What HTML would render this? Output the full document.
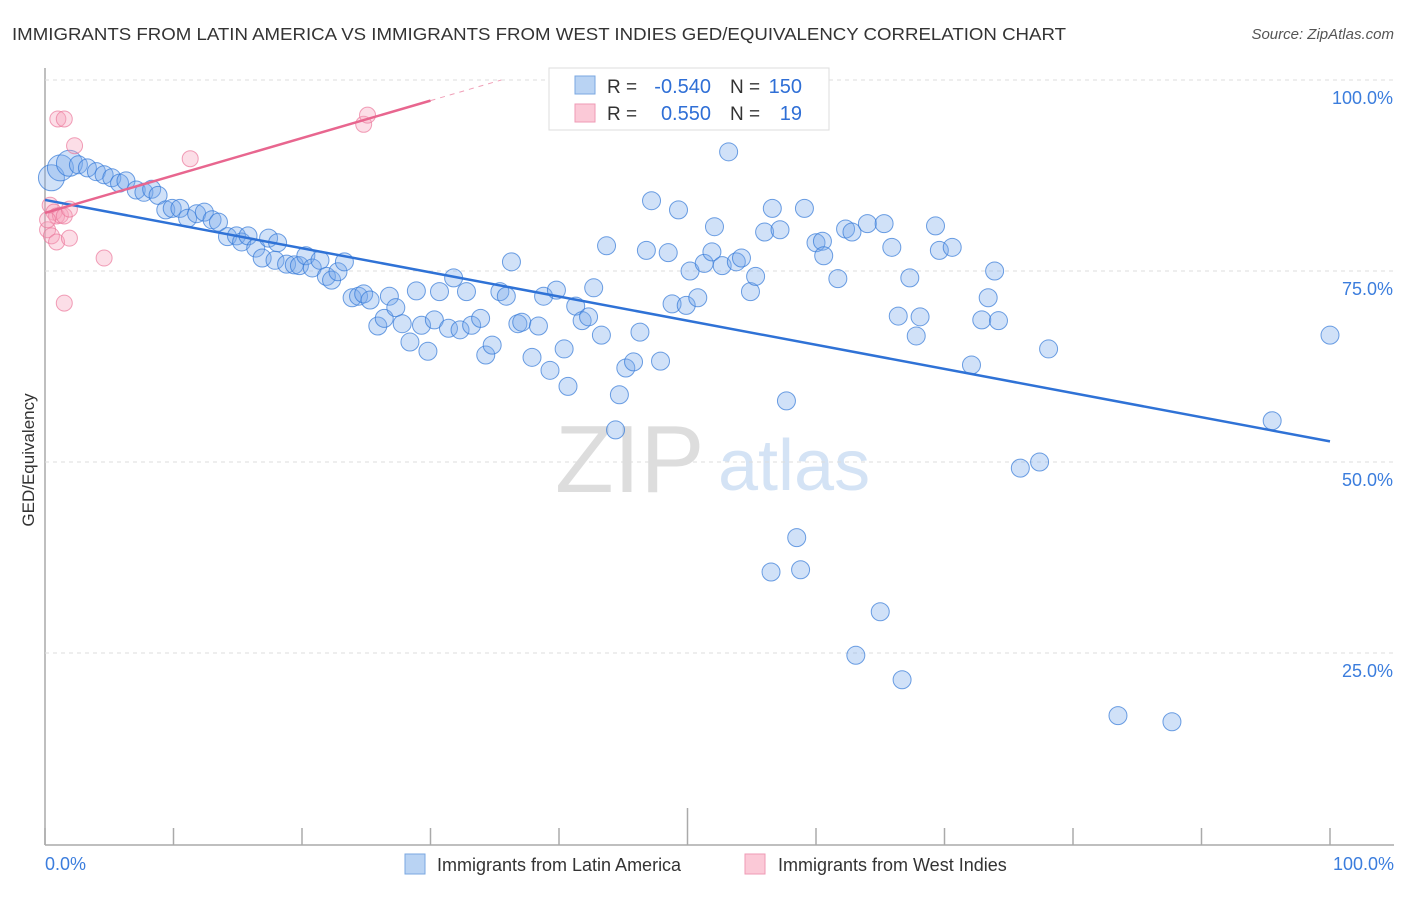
<!DOCTYPE html>
<html><head><meta charset="utf-8"><style>
body{margin:0;background:#fff;font-family:"Liberation Sans",sans-serif}
svg text{font-family:"Liberation Sans",sans-serif}
</style></head><body>
<svg width="1406" height="892" id="c">
<text x="12" y="40" font-size="17.5" fill="#333" textLength="1054" lengthAdjust="spacingAndGlyphs">IMMIGRANTS FROM LATIN AMERICA VS IMMIGRANTS FROM WEST INDIES GED/EQUIVALENCY CORRELATION CHART</text>
<text x="1394" y="39" font-size="15" fill="#555" text-anchor="end" font-style="italic">Source: ZipAtlas.com</text>
<text x="555" y="492" font-size="96" fill="#ddd" font-family="Liberation Serif">ZIP</text>
<text x="718" y="490" font-size="72" fill="#d4e3f5">atlas</text>
<text x="34" y="460" font-size="17" fill="#333" transform="rotate(-90 34 460)" text-anchor="middle">GED/Equivalency</text>
<g id="grid"></g><g id="marks"></g><g id="lines"></g>
<g>
<rect x="549" y="68" width="280" height="62" fill="#fff" stroke="#ddd"/>
<rect x="575" y="76" width="20" height="18" fill="#b9d3f3" stroke="#7aa7e0"/>
<rect x="575" y="104" width="20" height="18" fill="#fbc9d7" stroke="#ef9ab4"/>
<text x="607" y="93" font-size="19" fill="#333">R =</text>
<text x="711" y="93" font-size="20" fill="#2f6fd6" text-anchor="end">-0.540</text>
<text x="730" y="93" font-size="19" fill="#333">N =</text>
<text x="802" y="93" font-size="20" fill="#2f6fd6" text-anchor="end">150</text>
<text x="607" y="120" font-size="19" fill="#333">R =</text>
<text x="711" y="120" font-size="20" fill="#2f6fd6" text-anchor="end">0.550</text>
<text x="730" y="120" font-size="19" fill="#333">N =</text>
<text x="802" y="120" font-size="20" fill="#2f6fd6" text-anchor="end">19</text>
</g>
<g>
<rect x="405" y="854" width="20" height="20" fill="#b9d3f3" stroke="#7aa7e0"/>
<text x="437" y="871" font-size="18" fill="#333">Immigrants from Latin America</text>
<rect x="745" y="854" width="20" height="20" fill="#fbc9d7" stroke="#ef9ab4"/>
<text x="778" y="871" font-size="18" fill="#333">Immigrants from West Indies</text>
</g>
<text x="45" y="870" font-size="18" fill="#3b7ddd">0.0%</text>
<text x="1394" y="870" font-size="18" fill="#3b7ddd" text-anchor="end">100.0%</text>
</svg>
<script>
const blueX=[0.5,1.2,1.9,2.6,3.3,4.0,4.6,5.2,5.8,6.3,7.1,7.7,8.3,8.8,9.4,9.9,10.5,11.1,11.8,12.4,13.0,13.5,14.2,14.9,15.3,15.8,16.4,16.9,17.4,18.1,17.9,18.8,19.4,19.8,20.3,20.8,21.4,21.9,22.3,22.8,23.3,23.9,24.4,24.8,25.3,25.9,26.4,26.8,27.3,27.8,28.4,28.9,29.3,29.8,30.3,30.7,31.4,31.8,32.3,32.8,33.2,33.9,34.3,34.8,35.4,35.9,36.3,36.8,37.1,37.9,38.4,38.8,39.3,39.8,40.4,40.7,41.3,41.8,42.3,42.7,43.3,43.7,44.4,44.7,45.2,45.8,46.3,46.8,47.2,47.9,48.5,48.8,49.3,49.9,50.2,50.8,51.3,51.9,52.1,52.7,53.2,53.8,54.2,54.9,55.3,56.0,56.6,57.2,57.7,59.1,60.0,60.5,60.6,61.7,62.3,62.8,64.0,65.3,65.9,66.4,67.3,67.8,68.1,69.3,69.6,70.6,72.1,72.9,73.4,73.9,74.2,75.9,77.4,78.1,83.5,87.7,95.5,100,56.5,58.5,58.8,63.1,65.0,66.7];
const blueY=[87.2,88.5,89.1,88.9,88.5,88.0,87.6,87.2,86.5,86.8,85.6,85.3,85.7,84.9,83.0,83.2,83.2,81.9,82.5,82.7,81.7,81.4,79.5,79.6,78.8,79.6,78.0,76.7,79.3,78.7,76.4,75.9,75.8,75.7,77.0,75.4,76.4,74.3,73.8,74.9,76.2,71.5,71.7,72.0,71.2,67.8,68.8,71.7,70.2,68.1,65.7,72.4,67.9,64.5,68.6,72.3,67.5,74.1,67.3,72.3,67.9,68.8,64.0,65.3,72.3,71.7,76.2,68.1,68.3,63.7,67.8,71.7,62.0,72.5,64.8,59.9,70.4,68.5,69.0,72.8,66.6,78.3,54.2,58.8,62.3,63.1,67.0,77.7,84.2,63.2,77.4,70.7,83.0,70.5,75.0,71.5,76.0,77.5,80.8,75.7,90.6,76.2,76.7,72.3,74.3,80.1,83.2,80.4,58.0,83.2,78.7,78.9,77.0,74.0,80.5,80.1,81.2,81.2,78.1,69.1,74.1,66.5,69.0,80.9,77.7,78.1,62.7,68.6,71.5,75.0,68.5,49.2,50.0,64.8,16.8,16.0,55.4,66.6,35.6,40.1,35.9,24.7,30.4,21.5];
const pinkX=[1.0,1.5,2.3,11.3,24.8,25.1,0.4,0.7,0.9,1.2,1.5,1.9,0.2,0.5,0.9,1.9,4.6,1.5,0.2];
const pinkY=[94.9,94.9,91.4,89.7,94.2,95.4,83.6,82.7,82.2,82.3,82.2,83.1,80.4,79.6,78.8,79.3,76.7,70.8,81.7];
const blueTrend=[84.3,52.7]; // y at x=0 and x=100
const pinkTrend=[82.6,97.3]; // y at x=0 and x=30
const yTicks=[100,75,50,25];
const yTickLabels=["100.0%","75.0%","50.0%","25.0%"];
const xTicks=[0,10,20,30,40,50,60,70,80,90,100];
const NS="http://www.w3.org/2000/svg";
const sx=v=>45+v*12.85, sy=v=>844-v*7.64;
function mk(t,a,p){const e=document.createElementNS(NS,t);for(const k in a)e.setAttribute(k,a[k]);p.appendChild(e);return e;}
const grid=document.getElementById('grid'),marks=document.getElementById('marks'),lines=document.getElementById('lines');
mk('line',{x1:45,y1:68,x2:45,y2:845,stroke:'#aaa','stroke-width':1.5},grid);
mk('line',{x1:45,y1:845,x2:1394,y2:845,stroke:'#aaa','stroke-width':1.5},grid);
yTicks.forEach((v,i)=>{
 const l=mk('line',{x1:45,y1:sy(v),x2:1394,y2:sy(v),stroke:'#ddd','stroke-dasharray':'4,4'},grid);
 
 
 const t=mk('text',{x:1393,y:sy(v)+24,'font-size':18,fill:'#3b7ddd','text-anchor':'end'},grid);
 t.textContent=yTickLabels[i];
 
 
});
xTicks.forEach(v=>{
 const l=mk('line',{x1:sx(v),y1:v==50?808:828,x2:sx(v),y2:845,stroke:'#aaa','stroke-width':1.5},grid);
 
 
});
blueX.forEach((x,i)=>{
 const c=mk('circle',{cx:sx(x),cy:sy(blueY[i]),r:i<3?13:9,fill:'rgba(120,170,235,0.35)',stroke:'rgba(50,120,215,0.7)','stroke-width':1},marks);
 
 
});
pinkX.forEach((x,i)=>{
 const c=mk('circle',{cx:sx(x),cy:sy(pinkY[i]),r:8,fill:'rgba(245,160,185,0.35)',stroke:'rgba(235,120,155,0.7)','stroke-width':1},marks);
 
 
});
let b=mk('line',{x1:sx(0),y1:sy(blueTrend[0]),x2:sx(100),y2:sy(blueTrend[1]),stroke:'#2f72d6','stroke-width':2.5},lines);


const ps=(pinkTrend[1]-pinkTrend[0])/30, xe=(100-pinkTrend[0])/ps;
let p=mk('line',{x1:sx(0),y1:sy(pinkTrend[0]),x2:sx(30),y2:sy(pinkTrend[1]),stroke:'#e8668f','stroke-width':2.5},lines);


let pd=mk('line',{x1:sx(30),y1:sy(pinkTrend[1]),x2:sx(xe),y2:sy(100),stroke:'#f0a0b8','stroke-width':1,'stroke-dasharray':'5,5'},lines);


</script>
</body></html>
